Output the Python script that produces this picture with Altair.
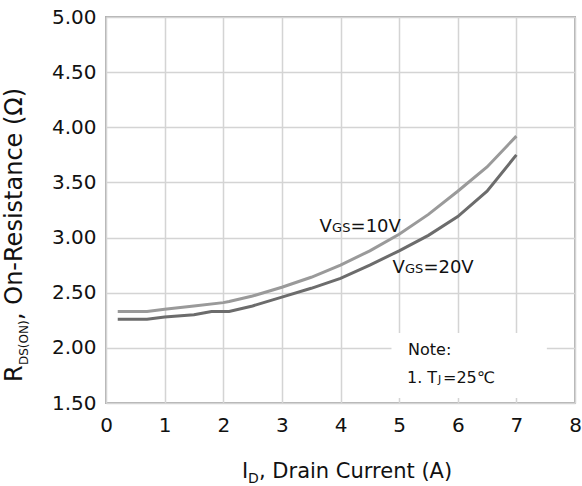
import altair as alt
import pandas as pd

# Data
id_10v = [0.2, 0.7, 1.0, 1.5, 2.0, 2.1, 2.5, 3.0, 3.5, 4.0, 4.5, 5.0, 5.5, 6.0, 6.5, 7.0]
r_10v = [2.33, 2.33, 2.35, 2.38, 2.41, 2.42, 2.47, 2.55, 2.64, 2.75, 2.88, 3.03, 3.21, 3.42, 3.64, 3.92]
id_20v = [0.2, 0.7, 1.0, 1.5, 1.8, 2.1, 2.5, 3.0, 3.5, 4.0, 4.5, 5.0, 5.5, 6.0, 6.5, 7.0]
r_20v = [2.26, 2.26, 2.28, 2.30, 2.33, 2.33, 2.38, 2.46, 2.54, 2.63, 2.75, 2.88, 3.02, 3.19, 3.42, 3.75]
series_names = ["VGS=10V", "VGS=20V"]
x_ticks = [0, 1, 2, 3, 4, 5, 6, 7, 8]
y_ticks = [1.5, 2.0, 2.5, 3.0, 3.5, 4.0, 4.5, 5.0]

FONT = "DejaVu Sans"
TXT = "#111111"

df = pd.concat([
    pd.DataFrame({"id": id_10v, "r": r_10v, "s": series_names[0]}),
    pd.DataFrame({"id": id_20v, "r": r_20v, "s": series_names[1]}),
])

xs = alt.Scale(domain=[0, 8], nice=False, zero=False)
ys = alt.Scale(domain=[1.5, 5.0], nice=False, zero=False)

x_axis = alt.Axis(values=x_ticks, format="d", title=None, grid=True, gridColor="#d4d4d4",
                  gridWidth=1.5, ticks=False, domain=False, labelFont=FONT, labelFontSize=20,
                  labelColor=TXT, labelPadding=12, labelFlush=False)
y_axis = alt.Axis(values=y_ticks, format=".2f", title=None, grid=True, gridColor="#d4d4d4",
                  gridWidth=1.5, ticks=False, domain=False, labelFont=FONT, labelFontSize=20,
                  labelColor=TXT, labelPadding=10, labelFlush=False)

base = alt.Chart(df)
lines = base.mark_line(strokeWidth=3).encode(
    x=alt.X("id:Q", scale=xs, axis=x_axis),
    y=alt.Y("r:Q", scale=ys, axis=y_axis),
    color=alt.Color("s:N", scale=alt.Scale(domain=series_names, range=["#9a9a9a", "#6c6c6c"]),
                    legend=None),
)

# white note box
box_df = pd.DataFrame({"x1": [4.87], "x2": [7.52], "y1": [1.545], "y2": [2.135]})
box = alt.Chart(box_df).mark_rect(color="white").encode(
    x=alt.X("x1:Q", scale=xs), x2="x2:Q", y=alt.Y("y1:Q", scale=ys), y2="y2:Q")

# curve labels (V + small GS + rest)
lab_df = pd.DataFrame({"x": [3.643, 4.885], "y": [3.05, 2.68], "rest": ["=10V", "=20V"]})
lab_base = alt.Chart(lab_df)
lab_v = lab_base.mark_text(align="left", baseline="alphabetic", font=FONT, fontSize=18,
                           color=TXT).encode(x=alt.X("x:Q", scale=xs), y=alt.Y("y:Q", scale=ys),
                                             text=alt.value("V"))
lab_gs = lab_base.mark_text(align="left", baseline="alphabetic", font=FONT, fontSize=13,
                            color=TXT, dx=12.5).encode(x=alt.X("x:Q", scale=xs),
                                                       y=alt.Y("y:Q", scale=ys),
                                                       text=alt.value("GS"))
lab_rest = lab_base.mark_text(align="left", baseline="alphabetic", font=FONT, fontSize=18,
                              color=TXT, dx=31).encode(x=alt.X("x:Q", scale=xs),
                                                       y=alt.Y("y:Q", scale=ys), text="rest:N")


def ptext(txt, x, y, size, align="left", angle=None):
    kw = dict(align=align, baseline="alphabetic", font=FONT, fontSize=size, color=TXT)
    if angle is not None:
        kw["angle"] = angle
    return alt.Chart(pd.DataFrame({"t": [txt]})).mark_text(**kw).encode(
        x=alt.value(x), y=alt.value(y), text="t:N")


# note text
note1 = ptext("Note:", 302, 338, 16)
note2a = ptext("1. T", 301, 366, 16)
note2b = ptext("J", 332, 366, 11)
note2c = ptext("=25℃", 337, 366, 16)

# x title
xt1 = ptext("I", 136, 461, 21)
xt2 = ptext("D", 142, 466, 14)
xt3 = ptext(", Drain Current (A)", 153, 461, 21)

# y title (rotated)
yt1 = ptext("R", -84, 365, 24, angle=270)
yt2 = ptext("DS(ON)", -78, 348, 12, angle=270)
yt3 = ptext(", On-Resistance (Ω)", -84, 303, 24, angle=270)

chart = alt.layer(
    lines, box, lab_v, lab_gs, lab_rest, note1, note2a, note2b, note2c,
    xt1, xt2, xt3, yt1, yt2, yt3
).properties(
    width=469, height=386,
    autosize=alt.AutoSizeParams(type="none"),
    padding={"left": 106, "top": 17, "right": 7, "bottom": 83},
    background="white",
).configure_view(stroke="#b0b0b0", strokeWidth=2)

chart.save("out.html", embed_options={"renderer": "svg", "actions": False})
